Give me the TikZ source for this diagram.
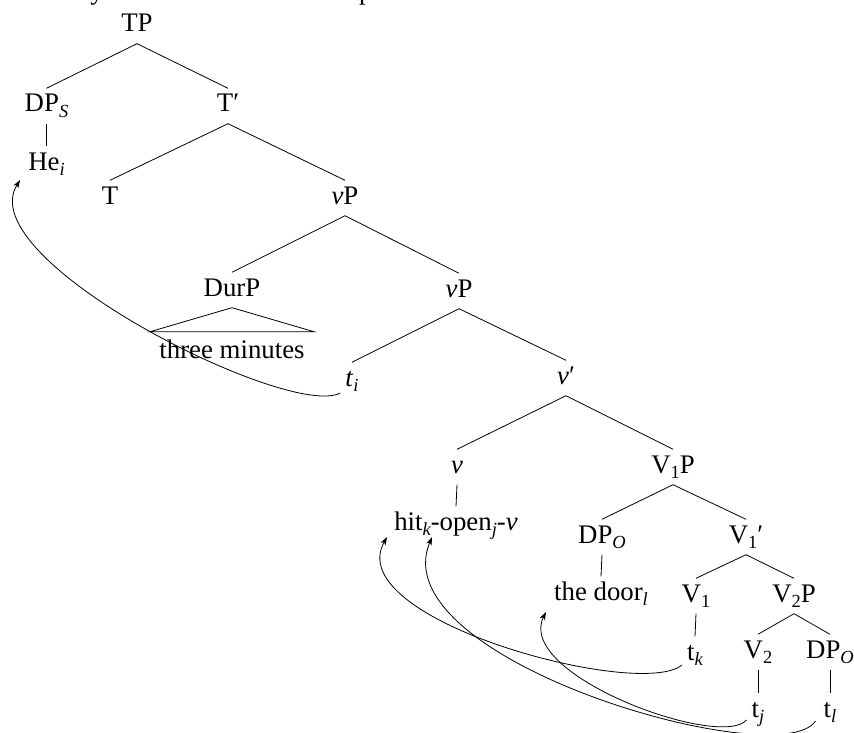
\documentclass[tikz,border=0pt]{standalone}
\usepackage{fontspec}
\setmainfont{Liberation Serif}
\usetikzlibrary{arrows.meta,calc}
\newcommand\sbi[1]{\raisebox{-0.19em}{\fontsize{18.5}{18.5}\selectfont\itshape #1}}
\newcommand\sbr[1]{\raisebox{-0.19em}{\fontsize{18.5}{18.5}\selectfont #1}}
\begin{document}
\begin{tikzpicture}[x=1pt,y=-1pt,
  lab/.style={anchor=base, inner sep=0pt, text height=23.5pt, text depth=11.5pt, font=\fontsize{26.8}{30}\selectfont},
  br/.style={line width=0.8pt},
  mv/.style={line width=0.8pt, -{Stealth[length=8pt,width=5.5pt,inset=2pt]}}]
\useasboundingbox (0,0) rectangle (854,733);
\node[anchor=base west, inner sep=0pt, font=\fontsize{26.8}{30}\selectfont] (sent) at (18,0) {He only used three minutes to open the door.};
\node[lab] (TP) at (137,32) {TP};
\node[lab] (DPS) at (46.5,112) {DP\sbi{S}};
\node[lab] (Tb) at (228,112) {T′};
\node[lab] (He) at (46.5,170) {He\sbi{i}};
\node[lab] (T) at (110,204) {T};
\node[lab] (vP1) at (345,204) {\textit{v}P};
\node[lab] (Dur) at (232,296) {DurP};
\node[lab] (tm) at (232,358) {three minutes};
\node[lab] (vP2) at (459,297) {\textit{v}P};
\node[lab] (ti) at (352,386) {\textit{t}\sbi{i}};
\node[lab] (vb) at (566,384) {\textit{v}′};
\node[lab] (v) at (457,473) {\textit{v}};
\node[lab] (V1P) at (673,473) {V\sbr{1}P};
\node[lab] (hit) at (456,530) {hit\sbi{k}-open\sbi{j}-\textit{v}};
\node[lab] (DPO) at (602,543) {DP\sbi{O}};
\node[lab] (V1b) at (746,543) {V\sbr{1}′};
\node[lab] (door) at (601,600) {the door\sbi{l}};
\node[lab] (V1) at (696,602) {V\sbr{1}};
\node[lab] (V2P) at (794,602) {V\sbr{2}P};
\node[lab] (tk) at (695,660) {t\sbi{k}};
\node[lab] (V2) at (758,658) {V\sbr{2}};
\node[lab] (DPO2) at (830,658) {DP\sbi{O}};
\node[lab] (tj) at (758,717) {t\sbi{j}};
\node[lab] (tl) at (830,717) {t\sbi{l}};
\draw[br] (TP.south) -- (DPS.north);
\draw[br] (TP.south) -- (Tb.north);
\draw[br] (DPS.south) -- (He.north);
\draw[br] (Tb.south) -- (T.north);
\draw[br] (Tb.south) -- (vP1.north);
\draw[br] (vP1.south) -- (Dur.north);
\draw[br] (vP1.south) -- (vP2.north);
\draw[br] (Dur.south) -- ($(tm.north west)+(-9.5,-2.5)$) -- ($(tm.north east)+(9.5,-2.5)$) -- cycle;
\draw[br] (vP2.south) -- (ti.north);
\draw[br] (vP2.south) -- (vb.north);
\draw[br] (vb.south) -- (v.north);
\draw[br] (vb.south) -- (V1P.north);
\draw[br] (v.south) -- (hit.north);
\draw[br] (V1P.south) -- (DPO.north);
\draw[br] (V1P.south) -- (V1b.north);
\draw[br] (DPO.south) -- (door.north);
\draw[br] (V1b.south) -- (V1.north);
\draw[br] (V1b.south) -- (V2P.north);
\draw[br] (V1.south) -- (tk.north);
\draw[br] (V2P.south) -- (V2.north);
\draw[br] (V2P.south) -- (DPO2.north);
\draw[br] (V2.south) -- (tj.north);
\draw[br] (DPO2.south) -- (tl.north);
\draw[mv] ($(ti.base west)+(-5,7)$) .. controls (290,420) and (-30,260) .. ($(He.base west)+(-8,10)$);
\draw[mv] ($(tk.base west)+(-5,5)$) .. controls (640,700) and (340,620) .. ($(hit.base west)+(-7,7)$);
\draw[mv] ($(tj.base west)+(-5,3)$) .. controls (720,750) and (515,675) .. ($(door.base west)+(-8,12)$);
\draw[mv] ($(tl.base west)+(-8,4)$) .. controls (780,775) and (380,660) .. ($(hit.base west)+(38,7)$);
\end{tikzpicture}
\end{document}
